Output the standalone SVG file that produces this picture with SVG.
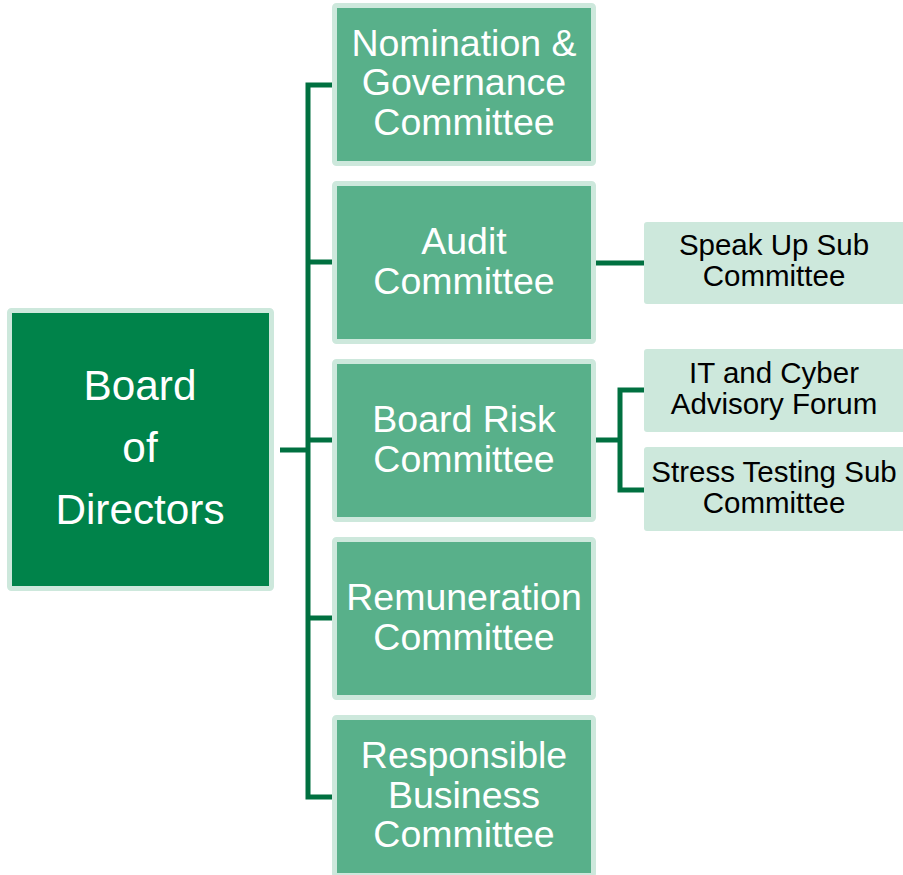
<svg xmlns="http://www.w3.org/2000/svg" width="903" height="875" viewBox="0 0 903 875">
<style>
.board{fill:#00834A;stroke:#CDE8DC;stroke-width:5}
.cm{fill:#58B08A;stroke:#CDE8DC;stroke-width:5}
.sub{fill:#CDE8DC}
.conn{fill:none;stroke:#007040;stroke-width:5}
text{font-family:"Liberation Sans",Arial,sans-serif;text-anchor:middle}
.wt{fill:#fff;font-size:37.5px}
.bt{fill:#fff;font-size:42.3px}
.st{fill:#000;font-size:29.5px}
</style>
<rect width="903" height="875" fill="#fff"/>
<g id="connectors">
<path class="conn" d="M280 450H308"/>
<path class="conn" d="M334 85H308V797H334"/>
<path class="conn" d="M308 262H334M308 440H334M308 618H334"/>
<path class="conn" d="M596 263H644"/>
<path class="conn" d="M596 440H620M644 390H620V490H644"/>
</g>
<g id="board">
<rect class="board" x="9.5" y="310.5" width="262" height="278" rx="2"/>
<text class="bt" x="140" y="400">Board</text>
<text class="bt" x="140" y="462">of</text>
<text class="bt" x="140" y="524">Directors</text>
</g>
<g id="nomination">
<rect class="cm" x="334.5" y="5.5" width="259" height="158" rx="2"/>
<text class="wt" x="464" y="55.5">Nomination &amp;</text>
<text class="wt" x="464" y="95">Governance</text>
<text class="wt" x="464" y="134.5">Committee</text>
</g>
<g id="audit">
<rect class="cm" x="334.5" y="183.5" width="259" height="158" rx="2"/>
<text class="wt" x="464" y="254">Audit</text>
<text class="wt" x="464" y="293.5">Committee</text>
</g>
<g id="risk">
<rect class="cm" x="334.5" y="361.5" width="259" height="158" rx="2"/>
<text class="wt" x="464" y="432">Board Risk</text>
<text class="wt" x="464" y="471.5">Committee</text>
</g>
<g id="remuneration">
<rect class="cm" x="334.5" y="539.5" width="259" height="158" rx="2"/>
<text class="wt" x="464" y="610">Remuneration</text>
<text class="wt" x="464" y="649.5">Committee</text>
</g>
<g id="responsible">
<rect class="cm" x="334.5" y="717.5" width="259" height="158" rx="2"/>
<text class="wt" x="464" y="768">Responsible</text>
<text class="wt" x="464" y="807.5">Business</text>
<text class="wt" x="464" y="847">Committee</text>
</g>
<g id="speakup">
<rect class="sub" x="644" y="222" width="262" height="82" rx="3"/>
<text class="st" x="774" y="255">Speak Up Sub</text>
<text class="st" x="774" y="286">Committee</text>
</g>
<g id="itcyber">
<rect class="sub" x="644" y="349" width="262" height="83" rx="3"/>
<text class="st" x="774" y="383">IT and Cyber</text>
<text class="st" x="774" y="414">Advisory Forum</text>
</g>
<g id="stress">
<rect class="sub" x="644" y="447" width="262" height="84" rx="3"/>
<text class="st" x="774" y="482">Stress Testing Sub</text>
<text class="st" x="774" y="513">Committee</text>
</g>
</svg>
